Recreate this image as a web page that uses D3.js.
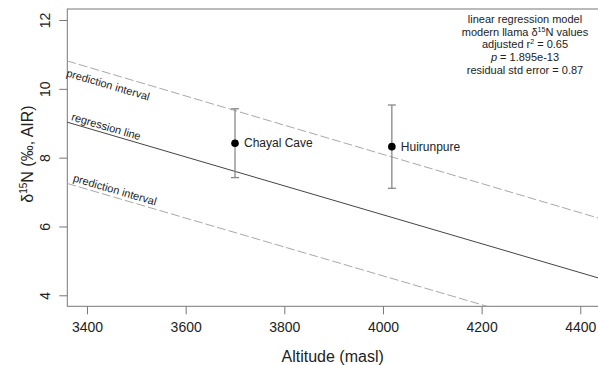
<!DOCTYPE html>
<html><head><meta charset="utf-8">
<script src="https://cdn.jsdelivr.net/npm/d3@7"></script>
<style>html,body{margin:0;padding:0;background:#fff;} svg{display:block;font-family:"Liberation Sans",Arial,sans-serif;}</style>
</head><body>
<svg id="chart" width="598" height="365"></svg>
<script>
// ---- data ----
const siteNames = ["Chayal Cave", "Huirunpure"];
const siteAltitude = [3700, 4018];
const siteD15N = [8.42, 8.32];
const siteLow = [7.42, 7.11];
const siteHigh = [9.42, 9.53];

const lineAltitude = [3360, 4440];
const regressionLine = [9.03, 4.49];
const upperPI = [10.81, 6.23];
const lowerPI = [7.25, 2.72];

const xTicks = [3400, 3600, 3800, 4000, 4200, 4400];
const yTicks = [4, 6, 8, 10, 12];
const xDomain = [3360, 4440];
const yDomain = [3.68, 12.32];

const annotationLines = ["linear regression model", "modern llama δ15N values", "adjusted r2 = 0.65", "p = 1.895e-13", "residual std error = 0.87"];

// ---- layout ----
const L = 67.3, R = 600, T = 9, B = 306.3;
const svg = d3.select("#chart");
const x = d3.scaleLinear().domain(xDomain).range([L, R]);
const y = d3.scaleLinear().domain(yDomain).range([B, T]);
const axisCol = "#777", textCol = "#222";

svg.append("defs").append("clipPath").attr("id", "clip")
  .append("rect").attr("x", L).attr("y", T).attr("width", R - L).attr("height", B - T);

// box
svg.append("rect").attr("x", L).attr("y", T).attr("width", R - L).attr("height", B - T)
  .attr("fill", "none").attr("stroke", axisCol).attr("stroke-width", 1);

// x axis
const xAx = svg.append("g").attr("transform", `translate(0,${B})`)
  .call(d3.axisBottom(x).tickValues(xTicks).tickFormat(d3.format("d")).tickSizeInner(8).tickSizeOuter(0).tickPadding(8));
xAx.select(".domain").remove();
xAx.selectAll("line").attr("stroke", axisCol);
xAx.selectAll("text").attr("font-size", 14).attr("fill", textCol).attr("font-family", "Liberation Sans, Arial, sans-serif");

// y axis
const yAx = svg.append("g").attr("transform", `translate(${L},0)`)
  .call(d3.axisLeft(y).tickValues(yTicks).tickFormat(d3.format("d")).tickSizeInner(8).tickSizeOuter(0));
yAx.select(".domain").remove();
yAx.selectAll("line").attr("stroke", axisCol);
yAx.selectAll("text")
  .attr("font-size", 14).attr("fill", textCol).attr("font-family", "Liberation Sans, Arial, sans-serif")
  .attr("x", null).attr("dy", null)
  .attr("text-anchor", "middle")
  .attr("transform", `translate(${50 - L},0) rotate(-90)`);

// axis titles
svg.append("text").attr("x", (L + R) / 2 - 1).attr("y", 362).attr("text-anchor", "middle")
  .attr("font-size", 16).attr("fill", textCol).text("Altitude (masl)");

const yt = svg.append("text").attr("transform", `translate(33,154) rotate(-90)`).attr("text-anchor", "middle")
  .attr("font-size", 16).attr("fill", textCol);
yt.append("tspan").text("δ");
yt.append("tspan").attr("font-size", 10).attr("dy", -6).text("15");
yt.append("tspan").attr("dy", 6).text("N (‰, AIR)");

// lines
const plot = svg.append("g").attr("clip-path", "url(#clip)");
const lineGen = d3.line().x(d => x(d[0])).y(d => y(d[1]));
const mk = vals => lineAltitude.map((a, i) => [a, vals[i]]);
plot.append("path").attr("d", lineGen(mk(upperPI))).attr("fill", "none")
  .attr("stroke", "#a8a8a8").attr("stroke-width", 1).attr("stroke-dasharray", "9,3");
plot.append("path").attr("d", lineGen(mk(lowerPI))).attr("fill", "none")
  .attr("stroke", "#a8a8a8").attr("stroke-width", 1).attr("stroke-dasharray", "9,3");
plot.append("path").attr("d", lineGen(mk(regressionLine))).attr("fill", "none")
  .attr("stroke", "#444").attr("stroke-width", 1);

// line labels
function lineLabel(vals, px, dy, txt) {
  const x0 = x(lineAltitude[0]), x1 = x(lineAltitude[1]);
  const y0 = y(vals[0]), y1 = y(vals[1]);
  const slope = (y1 - y0) / (x1 - x0);
  const ang = Math.atan(slope) * 180 / Math.PI;
  const yy = y0 + slope * (px - x0);
  svg.append("text").attr("transform", `translate(${px},${yy}) rotate(${ang})`)
    .attr("dy", dy).attr("font-size", 11).attr("fill", textCol).text(txt);
}
lineLabel(upperPI, 70, 15, "prediction interval");
lineLabel(regressionLine, 70, -3, "regression line");
lineLabel(lowerPI, 71.5, -3.5, "prediction interval");

// error bars and points
const sites = siteNames.map((n, i) => ({n, a: siteAltitude[i], v: siteD15N[i], lo: siteLow[i], hi: siteHigh[i]}));
const g = svg.append("g");
const eb = "#888";
sites.forEach(s => {
  g.append("line").attr("x1", x(s.a)).attr("x2", x(s.a)).attr("y1", y(s.lo)).attr("y2", y(s.hi)).attr("stroke", eb).attr("stroke-width", 1.3);
  g.append("line").attr("x1", x(s.a) - 4).attr("x2", x(s.a) + 4).attr("y1", y(s.lo)).attr("y2", y(s.lo)).attr("stroke", eb).attr("stroke-width", 1.3);
  g.append("line").attr("x1", x(s.a) - 4).attr("x2", x(s.a) + 4).attr("y1", y(s.hi)).attr("y2", y(s.hi)).attr("stroke", eb).attr("stroke-width", 1.3);
  g.append("circle").attr("cx", x(s.a)).attr("cy", y(s.v)).attr("r", 3.8).attr("fill", "#000");
  g.append("text").attr("x", x(s.a) + 9).attr("y", y(s.v) + 4.3).attr("font-size", 12).attr("fill", textCol).text(s.n);
});

// annotation
const ann = svg.append("g").attr("font-size", 11).attr("fill", textCol).attr("text-anchor", "middle");
const ax = 525, baseY = 22.8, lh = 12.8;
// line 1
ann.append("text").attr("x", ax).attr("y", baseY).text(annotationLines[0]);
// line 2 with superscript
let t2 = ann.append("text").attr("x", ax).attr("y", baseY + lh);
t2.append("tspan").text("modern llama δ");
t2.append("tspan").attr("font-size", 7).attr("dy", -4).text("15");
t2.append("tspan").attr("dy", 4).text("N values");
// line 3
let t3 = ann.append("text").attr("x", ax).attr("y", baseY + 2 * lh);
t3.append("tspan").text("adjusted r");
t3.append("tspan").attr("font-size", 7).attr("dy", -4).text("2");
t3.append("tspan").attr("dy", 4).text(" = 0.65");
// line 4
let t4 = ann.append("text").attr("x", ax).attr("y", baseY + 3 * lh);
t4.append("tspan").attr("font-style", "italic").text("p");
t4.append("tspan").text(" = 1.895e-13");
// line 5
ann.append("text").attr("x", ax).attr("y", baseY + 4 * lh).text(annotationLines[4]);
</script>
</body></html>
